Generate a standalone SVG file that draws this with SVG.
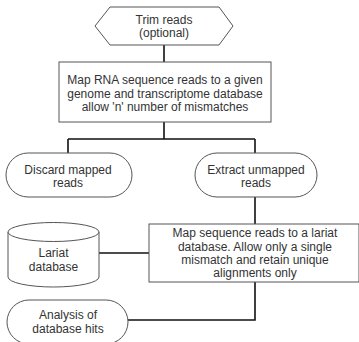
<svg xmlns="http://www.w3.org/2000/svg" width="359" height="342" viewBox="0 0 359 342">
<style>
.s{fill:#fff;stroke:#555;stroke-width:1}
.c{fill:none;stroke:#111;stroke-width:1.6}
text{font-family:"Liberation Sans",Arial,sans-serif;font-size:12px;fill:#333;text-anchor:middle}
</style>
<rect width="359" height="342" fill="#fff"/>
<g id="connectors">
<path class="c" d="M164,45V62"/>
<path class="c" d="M164,122V139M68,139H255M68,139V153M255,139V153"/>
<path class="c" d="M255,197V224"/>
<path class="c" d="M99,253H149"/>
<path class="c" d="M255,282V320H128"/>
</g>
<g id="trim">
<polygon class="s" points="95,26 110,7 219,7 233,26 219,45 110,45"/>
<text x="164" y="24">Trim reads</text>
<text x="164" y="37">(optional)</text>
</g>
<g id="map1">
<rect class="s" x="59" y="62" width="212" height="60"/>
<text x="165" y="84">Map RNA sequence reads to a given</text>
<text x="165" y="97.5">genome and transcriptome database</text>
<text x="165" y="111">allow 'n' number of mismatches</text>
</g>
<g id="discard">
<rect class="s" x="6" y="153" width="126" height="44" rx="22"/>
<text x="68" y="174">Discard mapped</text>
<text x="68" y="187">reads</text>
</g>
<g id="extract">
<rect class="s" x="195" y="153" width="122" height="44" rx="22"/>
<text x="256" y="174">Extract unmapped</text>
<text x="256" y="187">reads</text>
</g>
<g id="lariat">
<path class="s" d="M8,232V277A45.5,10 0 0 0 99,277V232"/>
<ellipse class="s" cx="53.5" cy="232" rx="45.5" ry="9.5"/>
<text x="53.5" y="257">Lariat</text>
<text x="53.5" y="271">database</text>
</g>
<g id="map2">
<rect class="s" x="149" y="224" width="210" height="58"/>
<text x="255" y="237">Map sequence reads to a lariat</text>
<text x="255" y="251">database. Allow only a single</text>
<text x="255" y="264">mismatch and retain unique</text>
<text x="255" y="277">alignments only</text>
</g>
<g id="analysis">
<rect class="s" x="7" y="300" width="121" height="44" rx="22"/>
<text x="68" y="319">Analysis of</text>
<text x="68" y="333">database hits</text>
</g>
</svg>
